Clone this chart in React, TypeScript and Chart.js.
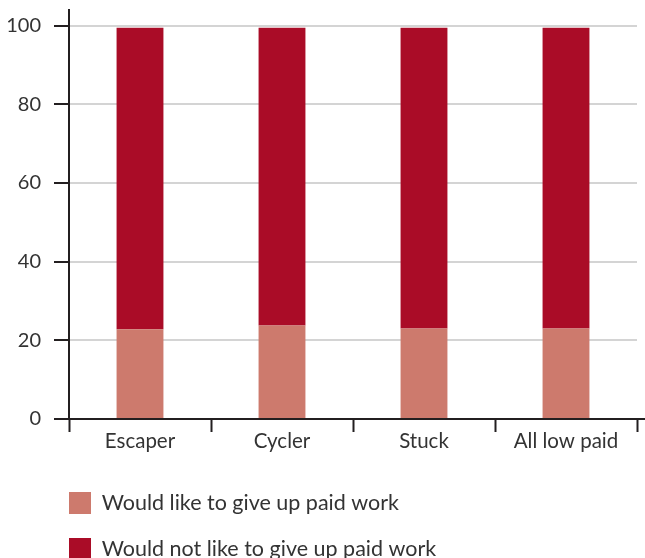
import React, { useEffect, useRef } from "react";
import { Chart, registerables } from "chart.js";

Chart.register(...registerables);

const categories = ["Escaper", "Cycler", "Stuck", "All low paid"];
const seriesLabels = [
  "Would like to give up paid work",
  "Would not like to give up paid work",
];
const likeValues = [22.8, 23.8, 23.0, 23.0];
const notLikeValues = [76.7, 75.7, 76.5, 76.5];
const yTickValues = [0, 20, 40, 60, 80, 100];

const FONT = "Lato";
const TEXT = "#333333";
const AXIS = "#231f20";
const GRID = "#d4d4d4";

const legendShift = {
  id: "legendShift",
  beforeDraw(chart: any) {
    const lg = chart.legend;
    if (lg) lg.left = chart.chartArea.left - lg.options.labels.padding;
  },
  afterDraw(chart: any) {
    const { ctx, chartArea } = chart;
    ctx.save();
    ctx.strokeStyle = AXIS;
    ctx.lineWidth = 2;
    ctx.beginPath();
    ctx.moveTo(chartArea.right, chartArea.bottom);
    ctx.lineTo(chart.width, chartArea.bottom);
    ctx.stroke();
    ctx.restore();
  },
};

export default function App() {
  const ref = useRef<HTMLCanvasElement | null>(null);

  useEffect(() => {
    if (!ref.current) return;
    const chart = new Chart(ref.current, {
      type: "bar",
      data: {
        labels: categories,
        datasets: [
          {
            label: seriesLabels[0],
            data: likeValues,
            backgroundColor: "#CD7A6D",
            borderWidth: 0,
            categoryPercentage: 1,
            barPercentage: 0.33,
          },
          {
            label: seriesLabels[1],
            data: notLikeValues,
            backgroundColor: "#AA0C27",
            borderWidth: 0,
            categoryPercentage: 1,
            barPercentage: 0.33,
          },
        ],
      },
      options: {
        responsive: false,
        animation: false,
        devicePixelRatio: 1,
        layout: { padding: { top: 10, right: 8, left: 0, bottom: 0 } },
        plugins: {
          tooltip: { enabled: false },
          legend: {
            display: true,
            position: "bottom",
            align: "start",
            labels: {
              boxWidth: 22,
              boxHeight: 22,
              padding: 24,
              color: TEXT,
              font: { family: FONT, size: 21.5 },
            },
          },
        },
        scales: {
          x: {
            stacked: true,
            offset: true,
            grid: {
              offset: true,
              drawOnChartArea: false,
              drawTicks: true,
              tickLength: 13,
              tickColor: AXIS,
              tickWidth: 2,
            },
            border: { display: true, color: AXIS, width: 2 },
            ticks: {
              color: TEXT,
              padding: -3,
              font: { family: FONT, size: 20.5 },
              maxRotation: 0,
            },
            afterFit: (s: any) => {
              s.height = 49;
              s.paddingLeft = 0;
              s.paddingRight = 0;
            },
          },
          y: {
            stacked: true,
            min: 0,
            max: 104,
            grid: {
              color: GRID,
              lineWidth: 2,
              drawTicks: true,
              tickLength: 15,
              tickColor: AXIS,
              tickWidth: 2,
            },
            border: { display: true, color: AXIS, width: 2 },
            ticks: {
              stepSize: 20,
              color: TEXT,
              padding: 13,
              font: { family: FONT, size: 20 },
            },
            afterBuildTicks: (s: any) => {
              s.ticks = yTickValues.map((v) => ({ value: v }));
            },
            afterFit: (s: any) => {
              s.width = 69;
              s.paddingTop = 0;
              s.paddingBottom = 0;
            },
          },
        },
      },
      plugins: [legendShift],
    });
    return () => chart.destroy();
  }, []);

  return (
    <div
      style={{
        position: "fixed",
        left: 0,
        top: 0,
        width: 645,
        height: 558,
        overflow: "hidden",
        background: "#fff",
      }}
    >
      <canvas ref={ref} width={645} height={570} style={{ display: "block" }} />
    </div>
  );
}
